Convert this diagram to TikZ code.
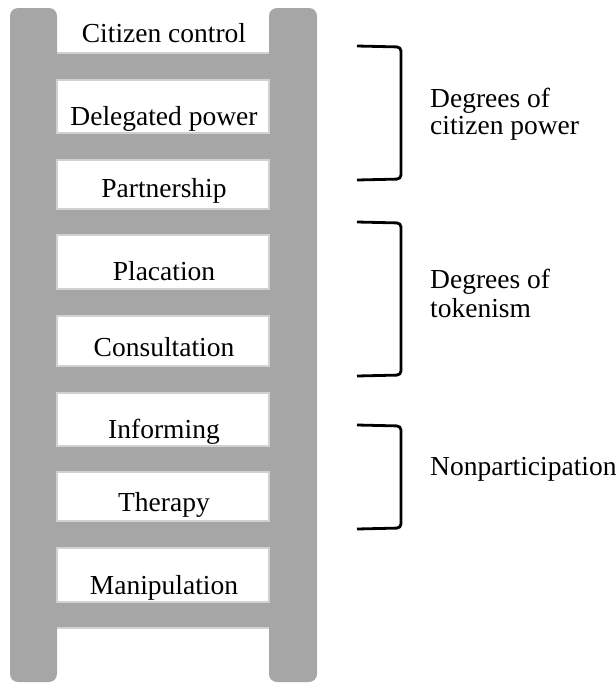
\documentclass[tikz,border=0pt]{standalone}
\usepackage{fontspec}
\setmainfont{Liberation Serif}
\begin{document}
\begin{tikzpicture}[x=1pt,y=-1pt,
  rail/.style={fill=ladgray,rounded corners=8pt},
  rung/.style={fill=ladgray},
  gap/.style={fill=white,draw=black!18,line width=1.2pt},
  rungtext/.style={anchor=base,font=\fontsize{27.5}{29}\selectfont,inner sep=0pt},
  sidetext/.style={anchor=base west,font=\fontsize{27.5}{29}\selectfont,inner sep=0pt},
  brace/.style={draw=black,line width=2.8pt,rounded corners=4pt}]
\definecolor{ladgray}{RGB}{166,166,166}
\useasboundingbox (0,0) rectangle (616,686);
% rails
\fill[rail] (10,8) rectangle (57,682);
\fill[rail] (269,8) rectangle (317,682);
% rungs
\fill[rung] (50,53) rectangle (276,628);
% gaps between rungs
\draw[black!18,line width=1.2pt] (57,53) -- (269,53);
\draw[gap] (57,80) rectangle (269,133);
\draw[gap] (57,160) rectangle (269,209);
\draw[gap] (57,235) rectangle (269,289);
\draw[gap] (57,316) rectangle (269,366);
\draw[gap] (57,393) rectangle (269,446);
\draw[gap] (57,472) rectangle (269,521);
\draw[gap] (57,548) rectangle (269,602);
\draw[black!18,line width=1.2pt] (57,628) -- (269,628);
% rung labels
\node[rungtext] (t1) at (164,42) {Citizen control};
\node[rungtext] (t2) at (164,125) {Delegated power};
\node[rungtext] (t3) at (164,197) {Partnership};
\node[rungtext] (t4) at (164,280) {Placation};
\node[rungtext] (t5) at (164,356) {Consultation};
\node[rungtext] (t6) at (164,438) {Informing};
\node[rungtext] (t7) at (164,511) {Therapy};
\node[rungtext] (t8) at (164,594) {Manipulation};
% brackets
\coordinate (b1a) at (357,46);
\coordinate (b1b) at (401,47);
\coordinate (b1c) at (401,179);
\coordinate (b1d) at (357,180);
\draw[brace] (b1a) -- (b1b) -- (b1c) -- (b1d);
\coordinate (b2a) at (357,222);
\coordinate (b2b) at (401,223);
\coordinate (b2c) at (401,375);
\coordinate (b2d) at (357,376);
\draw[brace] (b2a) -- (b2b) -- (b2c) -- (b2d);
\coordinate (b3a) at (357,425);
\coordinate (b3b) at (401,426);
\coordinate (b3c) at (401,528);
\coordinate (b3d) at (357,529);
\draw[brace] (b3a) -- (b3b) -- (b3c) -- (b3d);
% group labels
\node[sidetext] (g1a) at (430,107) {Degrees of};
\node[sidetext] (g1b) at (430,134) {citizen power};
\node[sidetext] (g2a) at (430,288) {Degrees of};
\node[sidetext] (g2b) at (430,317) {tokenism};
\node[sidetext] (g3) at (430,475) {Nonparticipation};
\end{tikzpicture}
\end{document}
